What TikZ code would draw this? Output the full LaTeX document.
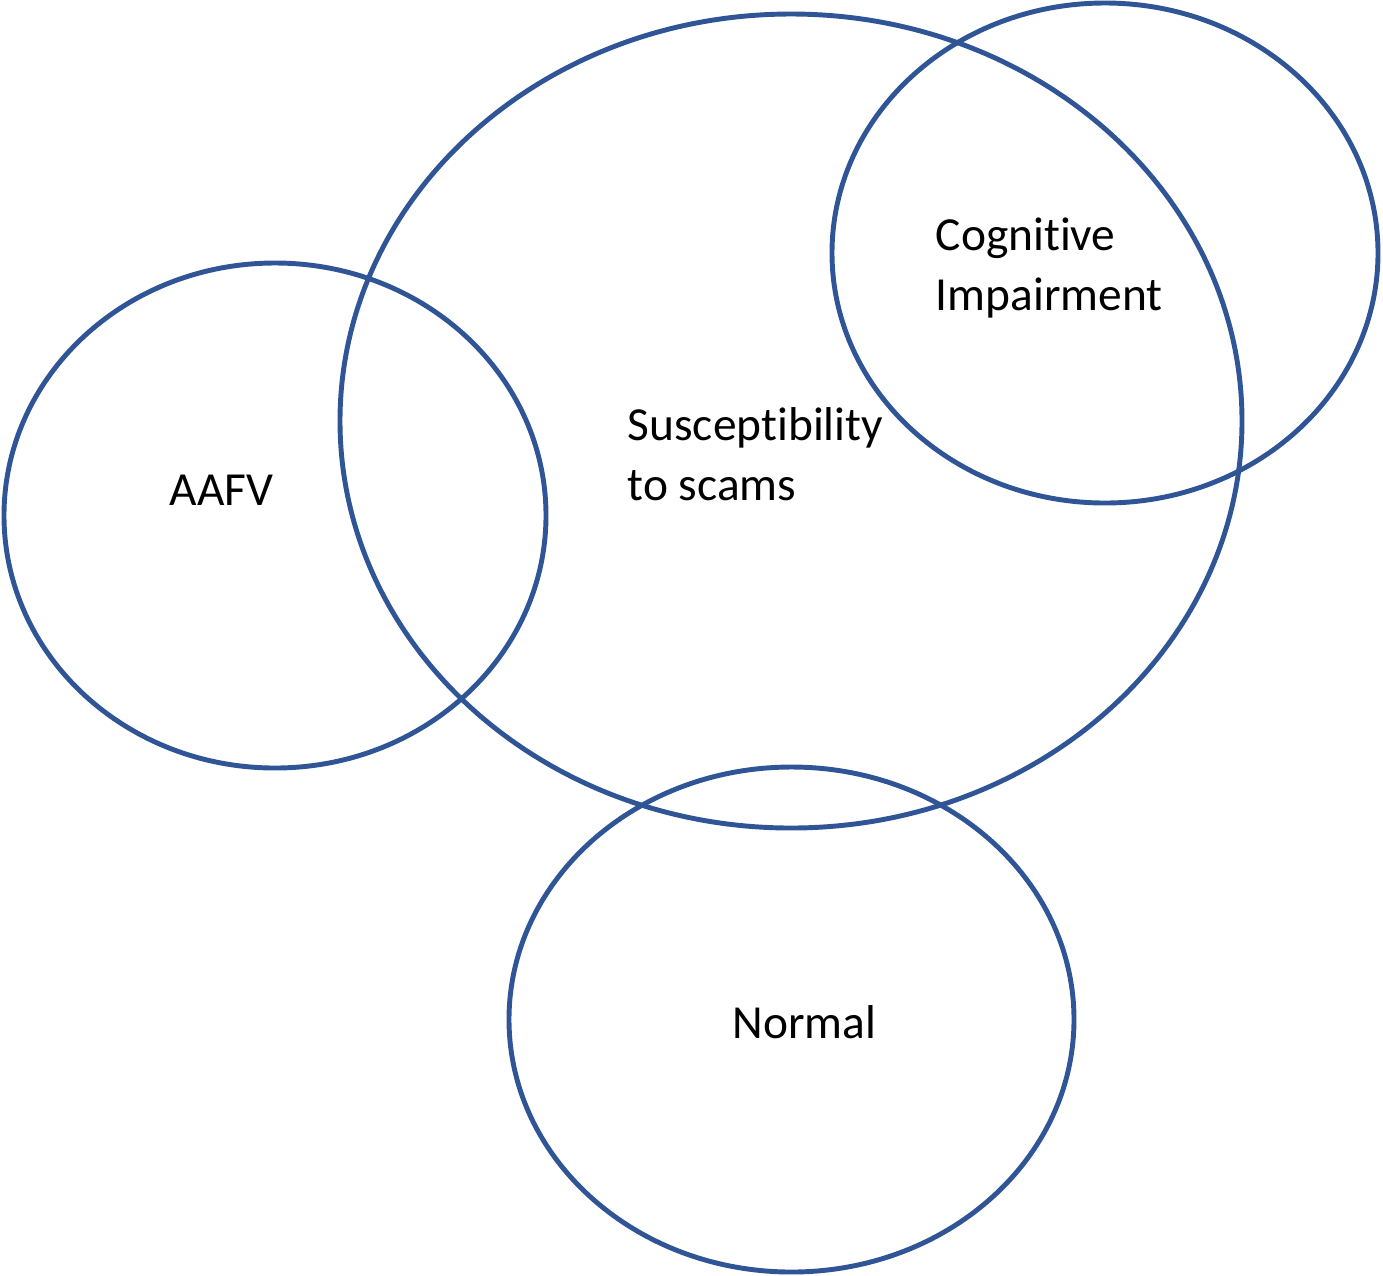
\documentclass[tikz,border=0pt]{standalone}
\usepackage{fontspec}
\setmainfont{Carlito}[RawFeature={-liga}]
\usepackage{tikz}
\usetikzlibrary{positioning}

\definecolor{ringblue}{HTML}{2F5597}

\begin{document}
\begin{tikzpicture}[ring/.style={draw=ringblue,line width=1.4pt},
		label/.style={anchor=base west,inner sep=0pt,align=left,
			font=\fontsize{13.5pt}{16.8pt}\selectfont}]
		\useasboundingbox (0,0) rectangle (13.83,-12.75);

		% the four sets
		\draw[ring] (7.91,-4.21) ellipse [x radius=4.51,y radius=4.07];
		\draw[ring] (11.05,-2.53) ellipse [x radius=2.73,y radius=2.50];
		\draw[ring] (2.75,-5.155) ellipse [x radius=2.71,y radius=2.525];
		\draw[ring] (7.915,-10.195) ellipse [x radius=2.825,y radius=2.525];

		\node[label] (scams) at (6.27,-5.00) {Susceptibility\\to scams};
		\node[label] (cog) at (9.35,-3.10) {Cognitive\\Impairment};
		\node[label] (aafv) at (1.69,-5.05) {AAFV};
		\node[label] (normal) at (7.32,-10.38) {Normal};
	\end{tikzpicture}
\end{document}
